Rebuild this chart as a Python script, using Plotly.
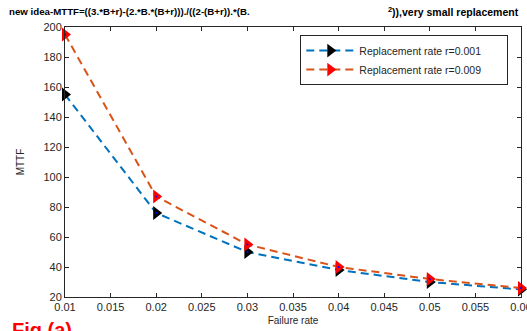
import plotly.graph_objects as go

failure_rate = [0.01, 0.02, 0.03, 0.04, 0.05, 0.06]
mttf_r001 = [155, 76, 50, 38, 30, 25]
mttf_r009 = [195, 87, 55, 40, 32, 26]
series_names = ["Replacement rate r=0.001", "Replacement rate r=0.009"]
x_ticks = [0.01, 0.015, 0.02, 0.025, 0.03, 0.035, 0.04, 0.045, 0.05, 0.055, 0.06]
y_ticks = [20, 40, 60, 80, 100, 120, 140, 160, 180, 200]

FONT = "Liberation Sans, Arial, sans-serif"

fig = go.Figure()
for ys, lc, mc, name in [(mttf_r001, "#0072BD", "black", series_names[0]),
                         (mttf_r009, "#D95319", "red", series_names[1])]:
    fig.add_trace(go.Scatter(
        x=failure_rate, y=ys, mode="lines+markers", name=name + "&nbsp;" * 7,
        line=dict(color=lc, width=2, dash="8px,5px"),
        marker=dict(symbol="triangle-right", size=12, color=mc, line=dict(width=0)),
        cliponaxis=False,
    ))
    fig.add_trace(go.Scatter(
        x=failure_rate, y=ys, mode="markers", showlegend=False,
        marker=dict(symbol="circle", size=2, color="#0000FF"),
        cliponaxis=False, hoverinfo="skip",
    ))

axis_common = dict(
    showgrid=False, zeroline=False, showline=True, linecolor="#262626", linewidth=1,
    mirror="ticks", ticks="inside", ticklen=4, tickcolor="#262626",
    tickfont=dict(family=FONT, size=11, color="#262626"), automargin=False,
)
fig.update_xaxes(range=[0.01, 0.0600001], tickvals=x_ticks,
                 ticktext=[f"{v:g}" for v in x_ticks], ticklabeloverflow="allow",
                 title=dict(text="Failure rate", font=dict(family=FONT, size=10, color="#262626"), standoff=4),
                 **axis_common)
fig.update_yaxes(range=[20, 200.0001], tickvals=y_ticks,
                 title=dict(text="MTTF", font=dict(family=FONT, size=10, color="#262626"), standoff=16),
                 **axis_common)

fig.update_layout(
    width=527, height=331,
    margin=dict(l=65, r=6, t=27, b=34),
    paper_bgcolor="white", plot_bgcolor="white",
    font=dict(family=FONT, color="#262626"),
    legend=dict(x=0.516, y=0.97, xanchor="left", yanchor="top",
                bgcolor="white", bordercolor="#262626", borderwidth=1,
                font=dict(family=FONT, size=10.5, color="#262626"),
                itemwidth=48, tracegroupgap=0),
    annotations=[
        dict(text="<b>new idea-MTTF=((3.*B+r)-(2.*B.*(B+r)))./((2-(B+r)).*(B.</b>",
             xref="paper", yref="paper", x=-0.1275, y=1.0, xanchor="left", yanchor="bottom",
             yshift=8, showarrow=False, font=dict(family=FONT, size=9.7, color="black")),
        dict(text="<b><sup>2</sup>)),very small replacement</b>",
             xref="paper", yref="paper", x=1.0, y=1.0, xanchor="right", yanchor="bottom",
             yshift=7, showarrow=False, font=dict(family=FONT, size=10.5, color="black")),
        dict(text="<b>Fig (a)</b>", xref="paper", yref="paper", x=-0.12, y=-0.075,
             xanchor="left", yanchor="top", showarrow=False,
             font=dict(family=FONT, size=20, color="red")),
    ],
)

fig.write_html("out.html")
